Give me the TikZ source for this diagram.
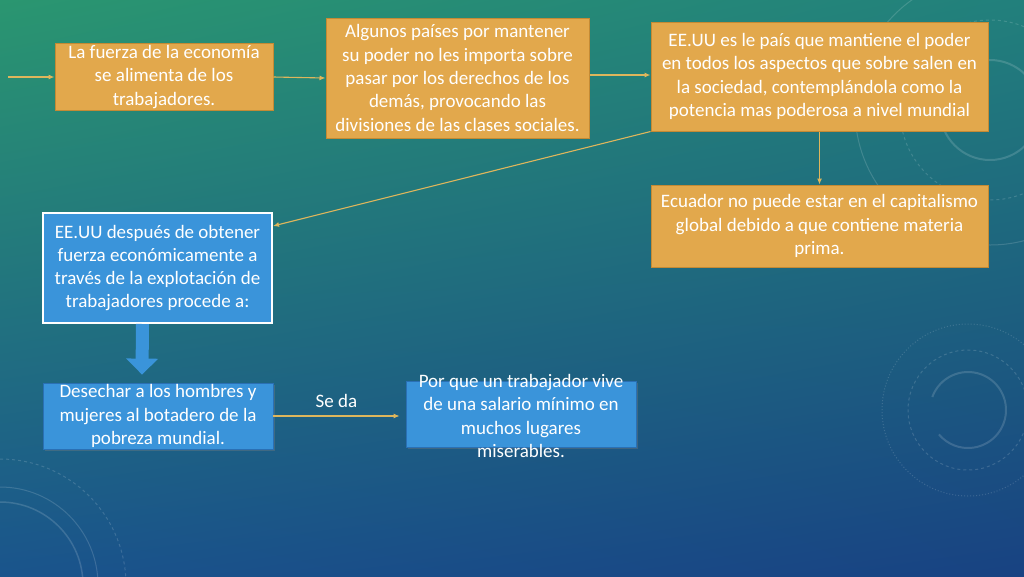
\documentclass[tikz,border=0pt]{standalone}
\usepackage{fontspec}
\setmainfont{Carlito}
\usetikzlibrary{arrows.meta, positioning, shadows, shadings}

\definecolor{boxorange}{RGB}{226,168,76}
\definecolor{orangeline}{RGB}{196,138,52}
\definecolor{boxblue}{RGB}{58,148,218}
\definecolor{blueline}{RGB}{42,112,180}
\definecolor{linkgold}{RGB}{222,182,92}
\definecolor{bgtl}{RGB}{42,150,112}
\definecolor{bgtr}{RGB}{34,128,124}
\definecolor{bgbl}{RGB}{26,84,140}
\definecolor{bgbr}{RGB}{24,66,130}

\begin{document}
\begin{tikzpicture}[x=1pt, y=-1pt,
    every node/.style={font=\fontsize{19}{23.3}\selectfont, text=white, align=center}, % Calibri-like text
    orangebox/.style={rectangle, draw=orangeline, line width=1pt, fill=boxorange, inner sep=0pt}, % Orange boxes
    bluebox/.style={rectangle, draw=blueline, line width=0.8pt, fill=boxblue, inner sep=0pt,
                    drop shadow={shadow xshift=2pt, shadow yshift=-2pt, opacity=0.35}}, % Blue boxes
    link/.style={draw=linkgold, line width=1.1pt, -{Latex[length=6pt, width=5pt]}}, % Thin gold arrows
    blockarrow/.style={draw=boxblue, line width=13pt, -{Triangle[length=16pt, width=31pt]}}, % Thick blue arrow
    deco/.style={draw=white, opacity=0.15} % Faint rings of the background
    ]
    % background
    \shade[upper left=bgtl, upper right=bgtr, lower left=bgbl, lower right=bgbr] (0,0) rectangle (1024,576);
    \useasboundingbox (0,0) rectangle (1024,576);
    \begin{scope}[deco]
        \draw[line width=2pt] (968,410) ++(200:38) arc (200:500:38);
        \draw[dashed, line width=1pt] (968,410) circle (60);
        \draw[dotted, line width=1pt] (968,410) circle (86);
        \draw[line width=1.5pt] (0,585) circle (83);
        \draw[line width=1pt] (0,585) circle (98);
        \draw[dashed, line width=1pt] (0,585) circle (126);
        \draw[line width=2pt] (990,110) circle (50);
        \draw[dashed, line width=1pt] (990,110) circle (90);
        \draw[line width=1pt] (990,110) circle (135);
    \end{scope}

    % top row
    \coordinate (start) at (8,77);
    \node[orangebox, minimum width=218, minimum height=67] (fuerza) at (164,77)
        {La fuerza de la economía\\ se alimenta de los\\ trabajadores.};
    \node[orangebox, minimum width=263, minimum height=120] (paises) at (457.5,78)
        {Algunos países por mantener\\ su poder no les importa sobre\\ pasar por los derechos de los\\ demás, provocando las\\ divisiones de las clases sociales.};
    \node[orangebox, minimum width=337, minimum height=109] (eeuu) at (819.5,76.5)
        {EE.UU es le país que mantiene el poder\\ en todos los aspectos que sobre salen en\\ la sociedad, contemplándola como la\\ potencia mas poderosa a nivel mundial};
    \node[orangebox, minimum width=337, minimum height=82] (ecuador) at (819.5,226)
        {Ecuador no puede estar en el capitalismo\\ global debido a que contiene materia\\ prima.};

    % blue part
    \node[rectangle, draw=white, line width=2pt, fill=boxblue, inner sep=0pt,
          minimum width=229, minimum height=110] (obtener) at (157.5,268)
        {EE.UU después de obtener\\ fuerza económicamente a\\ través de la explotación de\\ trabajadores procede a:};
    \node[bluebox, minimum width=230, minimum height=66] (desechar) at (158,416)
        {Desechar a los hombres y\\ mujeres al botadero de la\\ pobreza mundial.};
    \node[bluebox, minimum width=230, minimum height=66] (salario) at (521,414) {};
    \node (salariotext) at (521,416)
        {Por que un trabajador vive\\ de una salario mínimo en\\ muchos lugares\\ miserables.};

    % connectors
    \draw[link] (start) -- (fuerza.west);
    \draw[link] (fuerza.east) -- (paises.west);
    \draw[link] (paises.east |- 0,75) -- (eeuu.west |- 0,75);
    \draw[link] (eeuu.south) -- (ecuador.north);
    \draw[link] (eeuu.south west) -- ([yshift=-14pt]obtener.north east);
    \draw[blockarrow] ([xshift=-15pt]obtener.south) -- ([xshift=-16pt, yshift=8pt]desechar.north);
    \draw[link] (desechar.east) -- node[above=4pt] {Se da} ([xshift=-6pt]salario.west |- desechar.east);
\end{tikzpicture}
\end{document}
